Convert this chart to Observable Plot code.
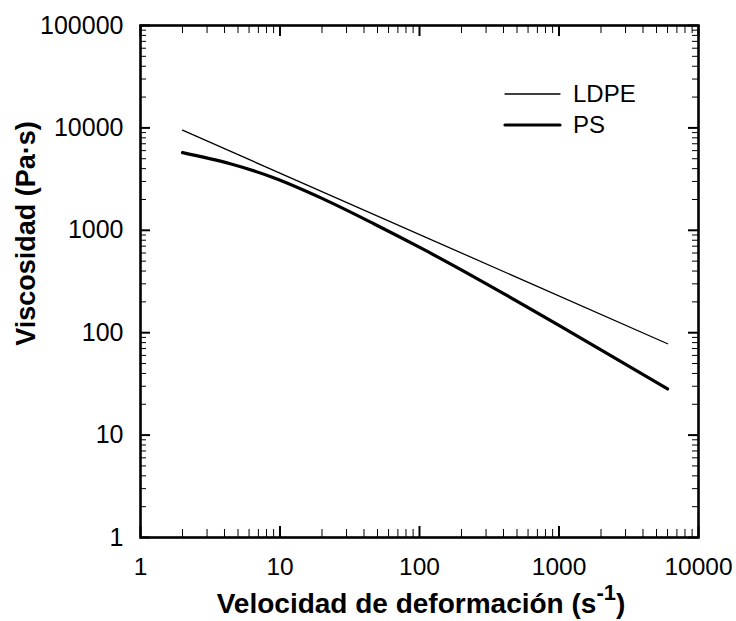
<!DOCTYPE html>
<html>
<head>
<meta charset="utf-8">
<script src="https://cdn.jsdelivr.net/npm/d3@7"></script>
<script src="https://cdn.jsdelivr.net/npm/@observablehq/plot@0.6"></script>
<style>
  html, body { margin: 0; padding: 0; background: #fff; }
  #chart { width: 736px; height: 621px; }
</style>
</head>
<body>
<div id="chart"></div>
<script>
// Shear-rate sweep: viscosity of two polymers (log–log)
const psRate = [2, 4.4, 9, 20, 47, 107, 274, 1000, 6000];
const psViscosity = [5730, 4470, 3260, 2050, 1160, 650, 323, 118, 28.2];
const ldpeRate = [2, 6000];
const ldpeViscosity = [9500, 78];

const seriesNames = ["LDPE", "PS"];
const xMajor = [1, 10, 100, 1000, 10000];
const yMajor = [1, 10, 100, 1000, 10000, 100000];
const minorSteps = [2, 3, 4, 5, 6, 7, 8, 9];

const xLabel = "Velocidad de deformación (s";
const xLabelSup = "-1";
const xLabelEnd = ")";
const yLabel = "Viscosidad (Pa·s)";

const ps = psRate.map((x, i) => ({x, y: psViscosity[i]}));
const ldpe = ldpeRate.map((x, i) => ({x, y: ldpeViscosity[i]}));

const minorOf = majors => majors.slice(0, -1).flatMap(m => minorSteps.map(s => m * s));
const xMinor = minorOf(xMajor);
const yMinor = minorOf(yMajor);

const W = 736, H = 621;
const mL = 140, mR = 38, mT = 25, mB = 84;
const innerW = W - mL - mR, innerH = H - mT - mB;
const font = "'Liberation Sans', Arial, Helvetica, sans-serif";

const chart = Plot.plot({
  width: W,
  height: H,
  marginLeft: mL,
  marginRight: mR,
  marginTop: mT,
  marginBottom: mB,
  style: {fontFamily: font, background: "#fff", color: "#000"},
  x: {type: "log", domain: [1, 10000], label: null},
  y: {type: "log", domain: [1, 100000], label: null},
  marks: [
    // inward ticks on all four sides
    Plot.ruleX(xMinor, {x: d => d, insetTop: innerH - 8, strokeWidth: 1}),
    Plot.ruleX(xMinor, {x: d => d, insetBottom: innerH - 8, strokeWidth: 1}),
    Plot.ruleX(xMajor, {x: d => d, insetTop: innerH - 11, strokeWidth: 2}),
    Plot.ruleX(xMajor, {x: d => d, insetBottom: innerH - 11, strokeWidth: 2}),
    Plot.ruleY(yMinor, {y: d => d, insetRight: innerW - 6, strokeWidth: 1}),
    Plot.ruleY(yMinor, {y: d => d, insetLeft: innerW - 6, strokeWidth: 1}),
    Plot.ruleY(yMajor, {y: d => d, insetRight: innerW - 10, strokeWidth: 2}),
    Plot.ruleY(yMajor, {y: d => d, insetLeft: innerW - 10, strokeWidth: 2}),
    Plot.axisX(xMajor, {tickSize: 0, tickPadding: 20, fontSize: 24.5, tickFormat: d => String(d)}),
    Plot.axisY(yMajor, {tickSize: 0, tickPadding: 17, fontSize: 25, tickFormat: d => String(d)}),
    Plot.frame({stroke: "#000", strokeWidth: 2.6}),
    Plot.line(ldpe, {x: "x", y: "y", stroke: "#000", strokeWidth: 1.3}),
    Plot.line(ps, {x: "x", y: "y", stroke: "#000", strokeWidth: 3.2, curve: "catmull-rom"}),
    Plot.text([yLabel], {
      frameAnchor: "left", textAnchor: "middle", dx: -(mL - 26), dy: -48, rotate: -90,
      fontSize: 27, fontWeight: "bold", fill: "#000"
    })
  ]
});

document.getElementById("chart").appendChild(chart);

const svg = d3.select(chart);

// x-axis title with superscript unit
const xt = svg.append("text")
  .attr("x", mL + innerW / 2 + 2)
  .attr("y", 613)
  .attr("text-anchor", "middle")
  .attr("font-family", font)
  .attr("font-weight", "bold")
  .attr("font-size", 28)
  .attr("fill", "#000");
xt.append("tspan").text(xLabel);
xt.append("tspan").attr("dy", -13).attr("font-size", 22).text(xLabelSup);
xt.append("tspan").attr("dy", 13).text(xLabelEnd);

// legend
const legendItems = [
  {name: seriesNames[0], width: 1.3},
  {name: seriesNames[1], width: 3.2}
];
const lg = svg.append("g").attr("transform", "translate(505,94)");
legendItems.forEach((d, i) => {
  const row = lg.append("g").attr("transform", `translate(0,${i * 31})`);
  row.append("line")
    .attr("x1", 0).attr("x2", 55).attr("y1", 0).attr("y2", 0)
    .attr("stroke", "#000").attr("stroke-width", d.width)
    .attr("stroke-linecap", "round");
  row.append("text")
    .attr("x", 68).attr("y", 0).attr("dy", "0.35em")
    .attr("text-anchor", "start")
    .attr("font-family", font).attr("font-size", 24).attr("fill", "#000")
    .text(d.name);
});
</script>
</body>
</html>
